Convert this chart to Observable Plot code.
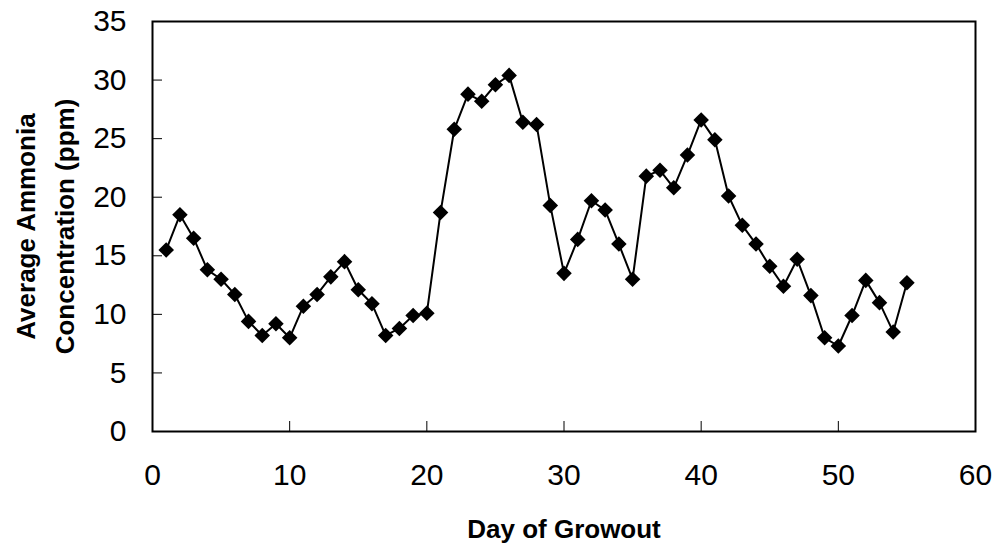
<!DOCTYPE html>
<html>
<head>
<meta charset="utf-8">
<script src="https://cdn.jsdelivr.net/npm/d3@7"></script>
<script src="https://cdn.jsdelivr.net/npm/@observablehq/plot@0.6"></script>
<style>
  html, body { margin: 0; padding: 0; background: #ffffff; }
  #chart { width: 997px; height: 550px; }
</style>
</head>
<body>
<div id="chart"></div>
<script>
const days = [1, 2, 3, 4, 5, 6, 7, 8, 9, 10,
              11, 12, 13, 14, 15, 16, 17, 18, 19, 20,
              21, 22, 23, 24, 25, 26, 27, 28, 29, 30,
              31, 32, 33, 34, 35, 36, 37, 38, 39, 40,
              41, 42, 43, 44, 45, 46, 47, 48, 49, 50,
              51, 52, 53, 54, 55];
const ammonia = [15.5, 18.5, 16.5, 13.8, 13.0, 11.7, 9.4, 8.2, 9.2, 8.0,
                 10.7, 11.7, 13.2, 14.5, 12.1, 10.9, 8.2, 8.8, 9.9, 10.1,
                 18.7, 25.8, 28.8, 28.2, 29.6, 30.4, 26.4, 26.2, 19.3, 13.5,
                 16.4, 19.7, 18.9, 16.0, 13.0, 21.8, 22.3, 20.8, 23.6, 26.6,
                 24.9, 20.1, 17.6, 16.0, 14.1, 12.4, 14.7, 11.6, 8.0, 7.3,
                 9.9, 12.9, 11.0, 8.5, 12.7];
const xTicks = [0, 10, 20, 30, 40, 50, 60];
const yTicks = [0, 5, 10, 15, 20, 25, 30, 35];
const xTitle = "Day of Growout";
const yTitleLines = ["Average Ammonia", "Concentration (ppm)"];

const data = days.map((d, i) => ({day: d, value: ammonia[i]}));

const chart = Plot.plot({
  width: 997,
  height: 550,
  marginLeft: 152,
  marginRight: 22,
  marginTop: 21,
  marginBottom: 119,
  style: {fontFamily: "'Liberation Sans', Arial, Helvetica, sans-serif", background: "#ffffff", color: "#000000"},
  x: {domain: [0, 60]},
  y: {domain: [0, 35]},
  marks: [
    Plot.axisX(xTicks, {tickSize: -10, tickPadding: 42, fontSize: 30, label: null}),
    Plot.axisY(yTicks, {tickSize: -10, tickPadding: 36, fontSize: 30, label: null}),
    Plot.frame({stroke: "#000000", strokeWidth: 2}),
    Plot.line(data, {x: "day", y: "value", stroke: "#000000", strokeWidth: 2}),
    Plot.dot(data, {x: "day", y: "value", symbol: "diamond2", fill: "#000000", stroke: "none", r: 7}),
    Plot.text([yTitleLines.join("\n")], {text: d => d, frameAnchor: "left", rotate: -90, dx: -110, fontSize: 26, fontWeight: "bold", lineHeight: 1.5, textAnchor: "middle", lineAnchor: "middle"}),
    Plot.text([xTitle], {text: d => d, frameAnchor: "bottom", dy: 98, fontSize: 26, fontWeight: "bold", lineAnchor: "middle"})
  ]
});
document.getElementById("chart").appendChild(chart);
</script>
</body>
</html>
